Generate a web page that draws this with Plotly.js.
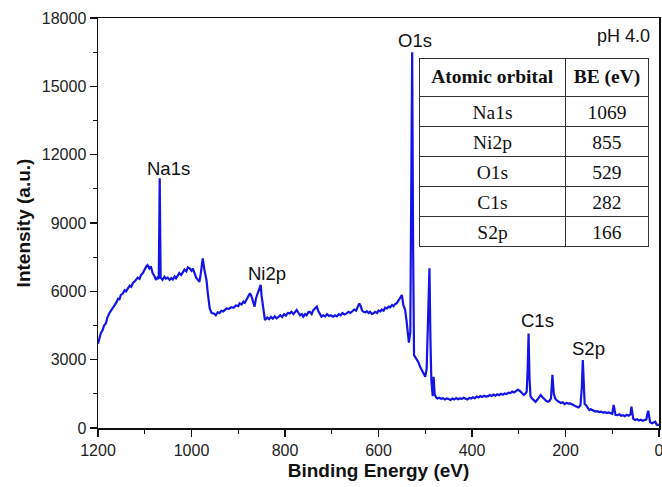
<!DOCTYPE html>
<html>
<head>
<meta charset="utf-8">
<script src="https://cdn.plot.ly/plotly-3.0.1.min.js"></script>
<style>html,body{margin:0;padding:0;background:#fff;}#chart{width:662px;height:487px;}</style>
</head>
<body>
<div id="chart"></div>
<script>
// Binding energy (eV) (descending, as drawn)
const bindingEnergy = [
1200,1197,1194,1190,1187,1183,1180,1176,1172,1168,1165,1161,1157,1154,1151,1147,1143,1140,1136,1132,
1129,1125,1122,1118,1115,1111,1108,1104,1101,1097,1094,1090,1087,1083,1080,1076,1073,1070,1068,1066,
1062,1058,1055,1051,1047,1043,1040,1036,1033,1029,1026,1022,1018,1015,1011,1008,1004,1000,997,993,
990,986,983,980,976,972,968,965,961,957,952,948,944,940,936,932,928,925,920,915,
910,905,900,897,893,889,886,882,879,875,872,868,865,862,859,855,852,850,847,843,
838,834,830,826,822,818,814,810,806,802,798,794,790,786,782,778,775,771,768,764,
761,757,754,750,747,743,740,736,732,729,725,722,718,714,710,706,702,697,693,689,
685,681,677,673,668,664,660,656,652,648,644,641,638,635,632,628,625,621,618,614,
611,607,603,600,596,593,589,586,582,578,575,571,568,564,561,557,554,550,547,543,
540,537,535,532,530,528,526,524,521,518,515,511,507,503,500,497,494,491,489,487,
484,482,480,477,474,470,466,462,458,454,450,446,442,438,434,430,426,422,418,414,
410,406,402,398,394,390,386,382,378,374,370,366,362,358,354,350,346,342,338,334,
330,326,322,318,314,310,306,302,298,295,292,289,286,283,281,279,277,275,272,268,
264,260,256,253,249,245,241,237,234,231,228,225,222,218,214,210,206,202,198,194,
190,186,182,178,175,172,168,165,163,161,159,156,152,149,146,143,140,136,132,128,
124,120,116,112,108,104,100,97,95,93,89,85,81,77,73,69,65,61,59,57,
55,51,47,43,39,35,31,27,25,23,21,19,15,11,8,5,3,0
];
// Intensity (a.u.)
const intensity = [
3700,3950,4160,4300,4500,4600,4850,5030,5150,5300,5400,5500,5680,5650,5840,5900,6050,6000,6130,6250,
6200,6380,6420,6500,6600,6550,6720,6800,6950,7080,7150,7010,7100,6790,6700,6500,6600,6550,10960,6600,
6500,6640,6560,6600,6500,6580,6520,6650,6570,6700,6800,6720,6860,6950,6880,7050,7010,6900,7000,6790,
6600,6500,6420,6800,7450,6900,6500,5900,5250,5050,5030,4950,5080,5050,5150,5120,5200,5250,5230,5300,
5280,5380,5350,5470,5420,5550,5500,5650,5750,5910,5800,5470,5330,5700,5900,6100,6280,5800,5250,4740,
4850,4780,4880,4800,4900,4815,4880,4950,4870,5000,4930,5050,5030,5100,5000,5120,5180,5050,4950,5000,
4890,5000,4950,5080,5100,5000,5150,5250,5330,5150,5000,4890,4950,4900,5000,4920,4950,4890,4950,4900,
5000,4950,5050,4980,5030,5100,5050,5150,5200,5150,5300,5470,5350,5150,5100,5080,5130,5050,5100,5000,
5030,5100,5050,5150,5120,5200,5150,5280,5250,5330,5300,5400,5350,5450,5470,5600,5700,5840,5400,5180,
4700,4000,3750,4200,11700,16500,8000,3200,3100,3000,2900,2690,2550,2400,2250,2600,4500,7010,4000,2100,
1400,2250,1500,1350,1300,1330,1280,1310,1250,1300,1270,1230,1290,1250,1310,1260,1300,1280,1330,1300,
1250,1320,1290,1350,1310,1380,1340,1400,1360,1420,1380,1400,1450,1410,1470,1420,1480,1440,1500,1460,
1520,1490,1550,1530,1600,1560,1620,1680,1640,1560,1480,1450,1500,1600,2500,4150,2200,1400,1300,1200,
1150,1250,1350,1450,1350,1250,1180,1150,1200,1300,2330,1500,1300,1200,1150,1100,1130,1050,1100,1070,
1080,1050,1000,950,935,900,1000,1800,2985,1600,1050,1000,850,790,820,780,760,720,740,700,
720,680,700,660,680,640,620,1010,700,570,560,600,540,560,520,580,540,600,935,700,
400,350,380,330,360,320,340,380,600,760,500,250,206,240,276,150,130,150
];

// Inset table
const tableHeader = ['Atomic orbital', 'BE (eV)'];
const orbitals = ['Na1s', 'Ni2p', 'O1s', 'C1s', 'S2p'];
const bindingEnergies = ['1069', '855', '529', '282', '166'];

// Peak labels on the spectrum
const peakNames = ['Na1s', 'Ni2p', 'O1s', 'C1s', 'S2p'];
const sampleLabel = 'pH 4.0';

const sans = 'Liberation Sans, Arial, sans-serif';
const serif = 'Liberation Serif, Times New Roman, serif';

const spectrum = {
  type: 'scatter', mode: 'lines',
  x: bindingEnergy, y: intensity,
  line: {color: '#1414e6', width: 2.2},
  hoverinfo: 'skip', showlegend: false
};

// keep header words together (table wraps on plain spaces)
const nb = s => s.split(' ').join('\u00a0');

const table = {
  type: 'table',
  domain: {x: [0.573, 0.982], y: [0.38, 0.902]},
  columnwidth: [146, 83],
  header: {
    values: tableHeader.map(t => '<b>' + nb(t) + '</b>'),
    height: 30, align: 'center',
    font: {family: serif, size: 19.5, color: '#111'},
    fill: {color: 'white'},
    line: {color: '#333', width: 1}
  },
  cells: {
    values: [orbitals, bindingEnergies],
    height: 30, align: 'center',
    font: {family: serif, size: 19.5, color: '#111'},
    fill: {color: 'white'},
    line: {color: '#333', width: 1}
  }
};

const labelPos = [[1050, 11400], [838, 6800], [521, 17030], [259, 4700], [150, 3510]];
const annotations = peakNames.map((n, i) => ({
  x: labelPos[i][0], y: labelPos[i][1], xref: 'x', yref: 'y',
  text: n, showarrow: false,
  font: {family: sans, size: 18.5, color: '#111'}
}));
annotations.push({
  x: 77, y: 17230, xref: 'x', yref: 'y', text: sampleLabel, showarrow: false,
  font: {family: sans, size: 18, color: '#111'}
});

const layout = {
  width: 662, height: 487,
  margin: {l: 98, r: 3, t: 18, b: 59},
  paper_bgcolor: 'white', plot_bgcolor: 'white',
  showlegend: false,
  xaxis: {
    range: [1200, 0], autorange: false,
    tickmode: 'linear', tick0: 0, dtick: 200, tickformat: 'd',
    ticks: 'outside', ticklen: 7, tickwidth: 1.5, tickcolor: '#111',
    ticklabeloverflow: 'allow',
    minor: {dtick: 100, tick0: 0, ticks: 'outside', ticklen: 4, tickwidth: 1.2, tickcolor: '#111', showgrid: false},
    showline: true, linewidth: 1.5, linecolor: '#111', mirror: true,
    showgrid: false, zeroline: false,
    tickfont: {family: sans, size: 16, color: '#222'},
    title: {text: '<b>Binding Energy (eV)</b>', font: {family: sans, size: 19, color: '#111'}, standoff: 6}
  },
  yaxis: {
    range: [0, 18000], autorange: false,
    tickmode: 'linear', tick0: 0, dtick: 3000, tickformat: 'd',
    ticks: 'outside', ticklen: 7, tickwidth: 1.5, tickcolor: '#111',
    minor: {dtick: 1500, tick0: 0, ticks: 'outside', ticklen: 4, tickwidth: 1.2, tickcolor: '#111', showgrid: false},
    showline: true, linewidth: 1.5, linecolor: '#111', mirror: true,
    showgrid: false, zeroline: false,
    tickfont: {family: sans, size: 16, color: '#222'},
    title: {text: '<b>Intensity (a.u.)</b>', font: {family: sans, size: 19, color: '#111'}, standoff: 6}
  },
  annotations: annotations
};

Plotly.newPlot('chart', [spectrum, table], layout, {displayModeBar: false, staticPlot: true});
</script>
</body>
</html>
